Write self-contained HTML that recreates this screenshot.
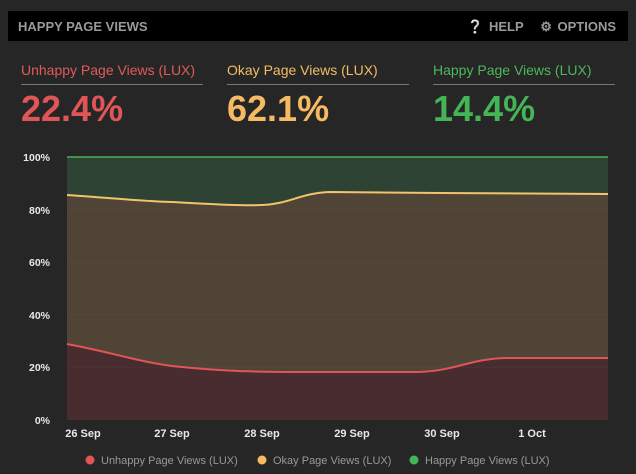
<!DOCTYPE html>
<html><head><meta charset="utf-8"><style>
html,body{margin:0;padding:0;width:636px;height:474px;background:#262626;overflow:hidden;font-family:"Liberation Sans",sans-serif}
.hdr{position:absolute;left:8px;top:11px;width:620px;height:30px;background:#000}
.hdr .t{position:absolute;left:10px;top:8px;color:#9a9a9a;font-weight:bold;font-size:13px}
.hdr .r{position:absolute;right:12px;top:8px;color:#9a9a9a;font-weight:bold;font-size:13px;word-spacing:2px}
.m{position:absolute;top:62px;width:182px}
.m .l{font-size:14px;padding-bottom:6px;border-bottom:1px solid #777}
.m .v{font-size:36px;font-weight:bold;margin-top:3px;letter-spacing:0px}
</style></head><body>
<div class="hdr"><div class="t">HAPPY PAGE VIEWS</div><div class="r">&#10068; HELP &nbsp;&nbsp;&#9881; OPTIONS</div></div>
<div class="m" style="left:21px"><div class="l" style="color:#e05a5a">Unhappy Page Views (LUX)</div><div class="v" style="color:#e05555">22.4%</div></div>
<div class="m" style="left:227px"><div class="l" style="color:#f3bd67">Okay Page Views (LUX)</div><div class="v" style="color:#f6bb62">62.1%</div></div>
<div class="m" style="left:433px"><div class="l" style="color:#4cb85a">Happy Page Views (LUX)</div><div class="v" style="color:#44b556">14.4%</div></div>
<svg width="636" height="474" style="position:absolute;left:0;top:0" font-family="Liberation Sans,sans-serif">
<rect x="67" y="157" width="541" height="263" fill="#2f4335"/>
<path d="M67,195 C110,198 140,201 172,202 C210,204 240,206 262,205 C290,204 300,193 330,192 L440,193 L608,194 L608,420 L67,420Z" fill="#4f4435"/>
<path d="M67,344 C110,352 140,362 172,366 C210,370 240,372 300,372 L420,372 C460,370 470,358 510,358 L608,358 L608,420 L67,420Z" fill="#482c2f"/>
<g stroke="#ffffff" stroke-opacity="0.03"><line x1="67" x2="608" y1="209.6" y2="209.6"/><line x1="67" x2="608" y1="262.2" y2="262.2"/><line x1="67" x2="608" y1="314.8" y2="314.8"/><line x1="67" x2="608" y1="367.4" y2="367.4"/></g>
<line x1="67" x2="608" y1="157" y2="157" stroke="#4caf50" stroke-width="1.5"/>
<path d="M67,195 C110,198 140,201 172,202 C210,204 240,206 262,205 C290,204 300,193 330,192 L440,193 L608,194" fill="none" stroke="#f2c46b" stroke-width="2"/>
<path d="M67,344 C110,352 140,362 172,366 C210,370 240,372 300,372 L420,372 C460,370 470,358 510,358 L608,358" fill="none" stroke="#e05555" stroke-width="2"/>
<g fill="#e8e8e8" font-size="10.5" font-weight="bold" text-anchor="end"><text x="50" y="161">100%</text><text x="50" y="214">80%</text><text x="50" y="266">60%</text><text x="50" y="319">40%</text><text x="50" y="371">20%</text><text x="50" y="424">0%</text></g>
<g fill="#e8e8e8" font-size="11" font-weight="bold" text-anchor="middle"><text x="83" y="437">26 Sep</text><text x="172" y="437">27 Sep</text><text x="262" y="437">28 Sep</text><text x="352" y="437">29 Sep</text><text x="442" y="437">30 Sep</text><text x="532" y="437">1 Oct</text></g>
<g font-size="11" fill="#999"><circle cx="90" cy="460" r="4.5" fill="#e05555"/><text x="101" y="464">Unhappy Page Views (LUX)</text><circle cx="262" cy="460" r="4.5" fill="#f6bb62"/><text x="273" y="464">Okay Page Views (LUX)</text><circle cx="414" cy="460" r="4.5" fill="#44b556"/><text x="425" y="464">Happy Page Views (LUX)</text></g>
</svg>
</body></html>
